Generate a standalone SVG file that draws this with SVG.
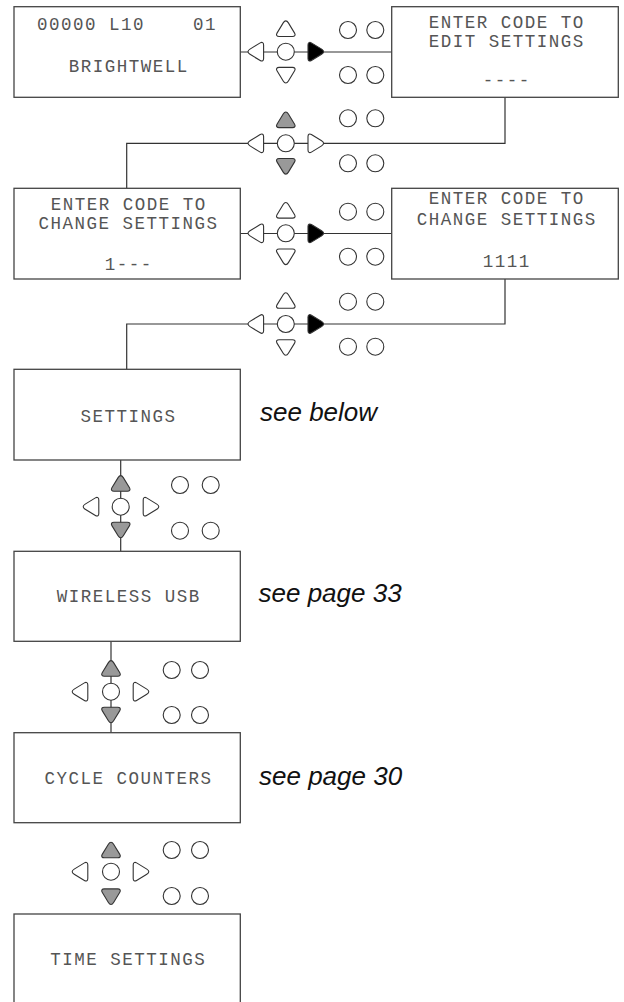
<svg xmlns="http://www.w3.org/2000/svg" width="624" height="1002" viewBox="0 0 624 1002">
<style>
.box{fill:#fff;stroke:#444;stroke-width:1.3}
.conn{fill:none;stroke:#333;stroke-width:1.2}
.mono{font-family:"Liberation Mono","Courier New",monospace;font-size:17.5px;letter-spacing:1.5px;fill:#555}
.mid{text-anchor:middle}
.note{font-family:"Liberation Sans",Arial,sans-serif;font-style:italic;font-size:26px;fill:#111}
.k{stroke:#333;stroke-width:1.1}
.w{fill:#fff}
.g{fill:#999}
.b{fill:#000}
.dot{fill:#fff;stroke:#333;stroke-width:1.1}
</style>
<defs>
<path id="tri" d="M0,-7.8 C1.2,-7.8 1.8,-7.1 2.6,-5.8 L8.8,4.4 C10,6.4 9,7.8 6.7,7.8 L-6.7,7.8 C-9,7.8 -10,6.4 -8.8,4.4 L-2.6,-5.8 C-1.8,-7.1 -1.2,-7.8 0,-7.8 Z"/>
</defs>
<g id="connectors">
<path class="conn" d="M240,52 H391.7"/>
<path class="conn" d="M505,97.3 V143.3 H126.7 V188.3"/>
<path class="conn" d="M240,233.5 H391.7"/>
<path class="conn" d="M505,279 V324 H126.7 V369.3"/>
<path class="conn" d="M120.7,460 V551.3"/>
<path class="conn" d="M111,641.3 V732.7"/>
</g>
<g id="box1">
<rect class="box" x="14" y="6.7" width="226.3" height="90.6"/>
<text class="mono" x="37" y="30">00000 L10</text>
<text class="mono" x="193" y="30">01</text>
<text class="mono mid" x="128.7" y="72">BRIGHTWELL</text>
</g>
<g id="box2">
<rect class="box" x="391.7" y="6.7" width="226.6" height="90.6"/>
<text class="mono mid" x="506.7" y="28.3">ENTER CODE TO</text>
<text class="mono mid" x="506.7" y="46.7">EDIT SETTINGS</text>
<text class="mono mid" x="506.7" y="86">----</text>
</g>
<g id="box3">
<rect class="box" x="14" y="188.3" width="226.3" height="90.7"/>
<text class="mono mid" x="128.7" y="210">ENTER CODE TO</text>
<text class="mono mid" x="128.4" y="229.3">CHANGE SETTINGS</text>
<text class="mono mid" x="128.7" y="270">1---</text>
</g>
<g id="box4">
<rect class="box" x="391.7" y="188.3" width="226.6" height="90.7"/>
<text class="mono mid" x="506.7" y="204.3">ENTER CODE TO</text>
<text class="mono mid" x="506.7" y="225">CHANGE SETTINGS</text>
<text class="mono mid" x="506.7" y="266.7">1111</text>
</g>
<g id="box5">
<rect class="box" x="14" y="369.3" width="226.3" height="90.7"/>
<text class="mono mid" x="128.4" y="421.7">SETTINGS</text>
</g>
<g id="box6">
<rect class="box" x="14" y="551.3" width="226.3" height="90"/>
<text class="mono mid" x="128.7" y="601.7">WIRELESS USB</text>
</g>
<g id="box7">
<rect class="box" x="14" y="732.7" width="226.3" height="90"/>
<text class="mono mid" x="128.5" y="784">CYCLE COUNTERS</text>
</g>
<g id="box8">
<rect class="box" x="14" y="914" width="226.3" height="92"/>
<text class="mono mid" x="128.2" y="965">TIME SETTINGS</text>
</g>
<g id="notes">
<text class="note" x="260" y="420.5">see below</text>
<text class="note" x="258.5" y="601.7">see page 33</text>
<text class="note" x="259" y="785">see page 30</text>
</g>
<g id="keypad1" transform="translate(285.8,51.7)">
<use href="#tri" class="k w" transform="translate(0,-23)"/>
<use href="#tri" class="k w" transform="translate(0,23.5) rotate(180)"/>
<use href="#tri" class="k w" transform="translate(-30,0) rotate(-90)"/>
<use href="#tri" class="k b" transform="translate(30,0) rotate(90)"/>
<circle class="dot" r="8.5"/>
</g>
<g id="keys1"><circle class="dot" cx="348" cy="30" r="8.5"/><circle class="dot" cx="375.3" cy="30" r="8.5"/><circle class="dot" cx="348" cy="75" r="8.5"/><circle class="dot" cx="375.3" cy="75" r="8.5"/></g>
<g id="keypad2" transform="translate(285.8,143.3)">
<use href="#tri" class="k g" transform="translate(0,-23.5)"/>
<use href="#tri" class="k g" transform="translate(0,23) rotate(180)"/>
<use href="#tri" class="k w" transform="translate(-30,0) rotate(-90)"/>
<use href="#tri" class="k w" transform="translate(30,0) rotate(90)"/>
<circle class="dot" r="8.5"/>
</g>
<g id="keys2"><circle class="dot" cx="348" cy="118.3" r="8.5"/><circle class="dot" cx="375.3" cy="118.3" r="8.5"/><circle class="dot" cx="348" cy="163.3" r="8.5"/><circle class="dot" cx="375.3" cy="163.3" r="8.5"/></g>
<g id="keypad3" transform="translate(285.8,233.3)">
<use href="#tri" class="k w" transform="translate(0,-23)"/>
<use href="#tri" class="k w" transform="translate(0,23.5) rotate(180)"/>
<use href="#tri" class="k w" transform="translate(-30,0) rotate(-90)"/>
<use href="#tri" class="k b" transform="translate(30,0) rotate(90)"/>
<circle class="dot" r="8.5"/>
</g>
<g id="keys3"><circle class="dot" cx="348" cy="211.7" r="8.5"/><circle class="dot" cx="375.3" cy="211.7" r="8.5"/><circle class="dot" cx="348" cy="256.7" r="8.5"/><circle class="dot" cx="375.3" cy="256.7" r="8.5"/></g>
<g id="keypad4" transform="translate(285.8,324)">
<use href="#tri" class="k w" transform="translate(0,-23.5)"/>
<use href="#tri" class="k w" transform="translate(0,23.5) rotate(180)"/>
<use href="#tri" class="k w" transform="translate(-30,0) rotate(-90)"/>
<use href="#tri" class="k b" transform="translate(30,0) rotate(90)"/>
<circle class="dot" r="8.5"/>
</g>
<g id="keys4"><circle class="dot" cx="348" cy="301.7" r="8.5"/><circle class="dot" cx="375.3" cy="301.7" r="8.5"/><circle class="dot" cx="348" cy="346.7" r="8.5"/><circle class="dot" cx="375.3" cy="346.7" r="8.5"/></g>
<g id="keypad5" transform="translate(120.7,506.7)">
<use href="#tri" class="k g" transform="translate(0,-23.3)"/>
<use href="#tri" class="k g" transform="translate(0,23.3) rotate(180)"/>
<use href="#tri" class="k w" transform="translate(-29.7,0) rotate(-90)"/>
<use href="#tri" class="k w" transform="translate(30.3,0) rotate(90)"/>
<circle class="dot" r="8.5"/>
</g>
<g id="keys5"><circle class="dot" cx="180" cy="485" r="8.5"/><circle class="dot" cx="210.7" cy="485" r="8.5"/><circle class="dot" cx="180" cy="530.7" r="8.5"/><circle class="dot" cx="210.7" cy="530.7" r="8.5"/></g>
<g id="keypad6" transform="translate(111,691.7)">
<use href="#tri" class="k g" transform="translate(0,-23.3)"/>
<use href="#tri" class="k g" transform="translate(0,23.3) rotate(180)"/>
<use href="#tri" class="k w" transform="translate(-31,0) rotate(-90)"/>
<use href="#tri" class="k w" transform="translate(30,0) rotate(90)"/>
<circle class="dot" r="8.5"/>
</g>
<g id="keys6"><circle class="dot" cx="171.7" cy="670" r="8.5"/><circle class="dot" cx="200" cy="670" r="8.5"/><circle class="dot" cx="171.7" cy="715" r="8.5"/><circle class="dot" cx="200" cy="715" r="8.5"/></g>
<g id="keypad7" transform="translate(111,871.7)">
<use href="#tri" class="k g" transform="translate(0,-21.7)"/>
<use href="#tri" class="k g" transform="translate(0,25) rotate(180)"/>
<use href="#tri" class="k w" transform="translate(-31,0) rotate(-90)"/>
<use href="#tri" class="k w" transform="translate(30,0) rotate(90)"/>
<circle class="dot" r="8.5"/>
</g>
<g id="keys7"><circle class="dot" cx="171.7" cy="850" r="8.5"/><circle class="dot" cx="200" cy="850" r="8.5"/><circle class="dot" cx="171.7" cy="896" r="8.5"/><circle class="dot" cx="200" cy="896" r="8.5"/></g>
</svg>
